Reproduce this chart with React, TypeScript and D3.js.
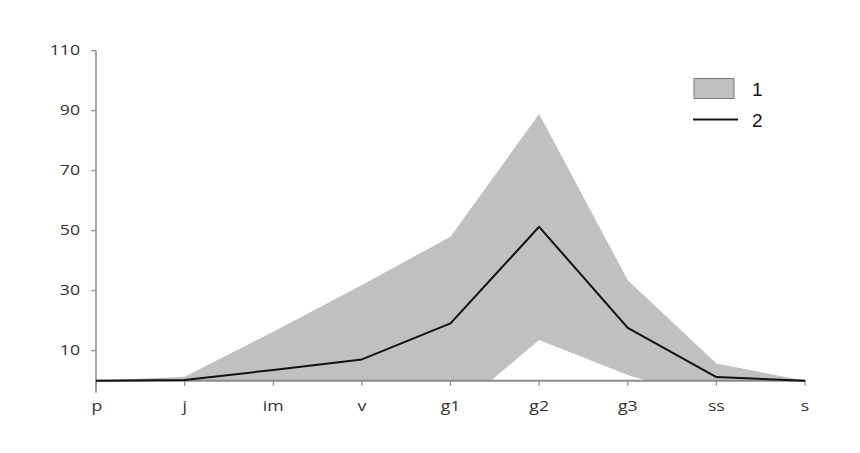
import React from 'react';
import * as d3 from 'd3';

// categories along the x axis
const categories = ['p', 'j', 'im', 'v', 'g1', 'g2', 'g3', 'ss', 's'];
// series 2: mean line
const meanValues = [0, 0.2, 3.6, 7.1, 19.1, 51.3, 17.6, 1.2, 0];
// series 1: band (upper / lower edges)
const upperValues = [0, 1.3, 16.3, 31.9, 48, 88.9, 33.5, 5.7, 0];
const lowerValues = [0, 0, -9, -18, -11.4, 13.6, 1.9, -7, 0];
const yTicks = [10, 30, 50, 70, 90, 110];
const legendLabels = ['1', '2'];

const W = 860;
const H = 453;
const margin = { top: 50.7, right: 55, bottom: 72.3, left: 96 };

export default function App() {
  const x = d3.scalePoint<string>()
    .domain(categories)
    .range([margin.left, W - margin.right]);

  const y = d3.scaleLinear()
    .domain([0, 110])
    .range([H - margin.bottom, margin.top]);

  const band = categories.map((c, i) => ({ c, hi: upperValues[i], lo: lowerValues[i] }));

  const areaPath = d3.area<{ c: string; hi: number; lo: number }>()
    .x(d => x(d.c) as number)
    .y0(d => y(d.lo))
    .y1(d => y(d.hi))(band) as string;

  const linePath = d3.line<number>()
    .x((_, i) => x(categories[i]) as number)
    .y(d => y(d))(meanValues) as string;

  const y0 = y(0);
  const axisColor = '#8a8a8a';
  const font = "'Open Sans', sans-serif";
  // the reference text is a little stretched sideways
  const stretch = 'scale(1.22,1)';

  return (
    <svg width={W} height={H} style={{ position: 'absolute', left: 0, top: 0, background: '#fff' }}>
      <defs>
        <clipPath id="plot-clip">
          <rect x={margin.left} y={margin.top - 10} width={W - margin.left - margin.right} height={y0 - margin.top + 10} />
        </clipPath>
      </defs>

      {/* band (series 1) */}
      <path d={areaPath} fill="#c0c0c0" clipPath="url(#plot-clip)" />

      {/* y axis */}
      <line x1={margin.left} x2={margin.left} y1={y(110)} y2={y0 + 12} stroke={axisColor} strokeWidth={1.5} />
      {yTicks.map(t => (
        <g key={t}>
          <line x1={margin.left - 5} x2={margin.left} y1={y(t)} y2={y(t)} stroke={axisColor} strokeWidth={1.2} />
          <g transform={`translate(${margin.left - 16},${y(t) - 0.5}) ${stretch}`}>
            <text dy="0.35em" textAnchor="end" fontFamily={font} fontSize={14.5} fill="#333">{t}</text>
          </g>
        </g>
      ))}

      {/* x axis */}
      <line x1={margin.left} x2={W - margin.right + 1} y1={y0} y2={y0} stroke={axisColor} strokeWidth={2} />
      {categories.map(c => (
        <g key={c}>
          <line x1={x(c)} x2={x(c)} y1={y0} y2={y0 + 5} stroke={axisColor} strokeWidth={1.2} />
          <g transform={`translate(${(x(c) as number) + (c === 'p' ? 1 : 0)},${y0 + 30.5}) ${stretch}`}>
            <text textAnchor="middle" fontFamily={font} fontSize={14.5} fill="#333">{c}</text>
          </g>
        </g>
      ))}

      {/* mean line (series 2) */}
      <path d={linePath} fill="none" stroke="#111" strokeWidth={2} strokeLinejoin="round" />

      {/* legend */}
      <rect x={694} y={78.5} width={40} height={20} fill="#c0c0c0" stroke="#7a7a7a" strokeWidth={1} />
      <text x={752} y={89} dy="0.35em" fontFamily="'Liberation Sans', Arial, sans-serif" fontSize={19} fill="#111">{legendLabels[0]}</text>
      <line x1={693} x2={738} y1={119.5} y2={119.5} stroke="#111" strokeWidth={1.8} />
      <text x={752} y={120} dy="0.35em" fontFamily="'Liberation Sans', Arial, sans-serif" fontSize={19} fill="#111">{legendLabels[1]}</text>
    </svg>
  );
}
